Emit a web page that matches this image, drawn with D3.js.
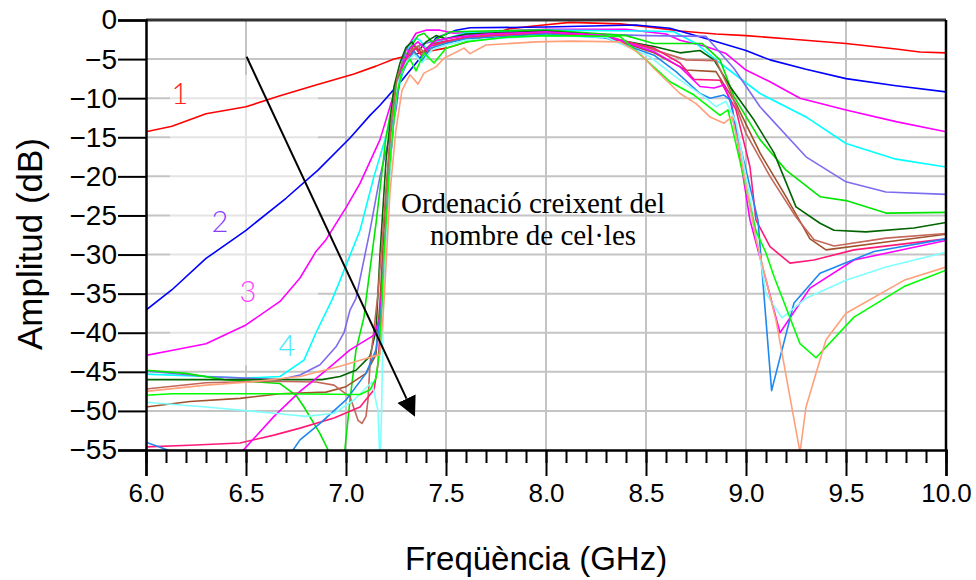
<!DOCTYPE html>
<html>
<head>
<meta charset="utf-8">
<script src="https://cdn.jsdelivr.net/npm/d3@7"></script>
<style>
  body { margin: 0; background: #fff; }
  svg { display: block; }
</style>
</head>
<body>
<svg id="chart" width="976" height="580"></svg>
<script>
// ticks
const xTicks = [6.0, 6.5, 7.0, 7.5, 8.0, 8.5, 9.0, 9.5, 10.0];
const xMinorTicks = d3.range(60, 101).map(d => d / 10);
const yTicks = [0, -5, -10, -15, -20, -25, -30, -35, -40, -45, -50, -55];

// series, [GHz, dB], ordered by number of cells
const curve1 = [[6.0,-14.3],[6.13,-13.6],[6.3,-12.0],[6.5,-11.1],[6.67,-9.7],[6.85,-8.3],[7.04,-6.9],[7.15,-5.9],[7.24,-5.0],[7.39,-4.1],[7.5,-3.6],[7.67,-2.3],[7.82,-1.1],[8.0,-0.6],[8.12,-0.3],[8.37,-0.5],[8.5,-0.85],[8.67,-1.4],[8.85,-1.8],[9.0,-2.0],[9.25,-2.5],[9.5,-3.0],[9.75,-3.7],[9.87,-4.1],[10.0,-4.2]];
const curve2 = [[6.0,-37.1],[6.13,-34.5],[6.3,-30.5],[6.5,-26.9],[6.7,-22.8],[6.86,-19.2],[7.02,-15.1],[7.12,-12.2],[7.17,-10.9],[7.29,-7.4],[7.37,-4.9],[7.45,-2.3],[7.55,-1.3],[7.62,-1.0],[8.0,-0.9],[8.45,-0.64],[8.62,-1.06],[8.79,-2.3],[9.0,-3.9],[9.12,-5.1],[9.3,-6.3],[9.5,-7.5],[9.75,-8.4],[10.0,-9.2]];
const curve3 = [[6.0,-42.9],[6.14,-42.2],[6.3,-41.4],[6.5,-39.0],[6.67,-36.0],[6.77,-33.0],[6.85,-29.6],[6.9,-28.1],[7.0,-24.0],[7.07,-20.9],[7.17,-15.3],[7.24,-9.4],[7.3,-3.8],[7.35,-1.7],[7.4,-1.3],[7.47,-1.3],[7.54,-1.7],[7.7,-1.5],[8.0,-1.2],[8.4,-1.2],[8.6,-1.8],[8.67,-2.6],[8.8,-3.4],[8.9,-4.3],[9.0,-6.4],[9.12,-7.9],[9.27,-10.0],[9.5,-11.5],[9.75,-13.0],[10.0,-14.3]];
const curve4 = [[6.0,-45.3],[6.5,-45.8],[6.67,-45.6],[6.79,-43.5],[6.85,-40.0],[6.93,-35.8],[6.97,-33.3],[7.07,-26.9],[7.14,-20.0],[7.2,-14.9],[7.27,-8.1],[7.32,-3.0],[7.35,-2.3],[7.37,-2.6],[7.4,-3.6],[7.44,-3.0],[7.5,-2.4],[7.6,-1.6],[8.0,-1.3],[8.5,-1.4],[8.64,-1.5],[8.75,-3.0],[8.87,-5.5],[9.07,-9.4],[9.3,-12.4],[9.5,-15.8],[9.75,-17.8],[10.0,-18.8]];
const curve5 = [[6.0,-44.9],[6.3,-45.6],[6.67,-46.0],[6.77,-45.4],[6.87,-44.1],[6.95,-41.8],[6.99,-40.0],[7.02,-37.1],[7.05,-35.6],[7.12,-26.9],[7.17,-20.0],[7.25,-11.5],[7.28,-5.5],[7.3,-3.7],[7.33,-4.0],[7.37,-3.2],[7.42,-2.8],[7.5,-2.4],[7.6,-1.9],[8.0,-1.6],[8.5,-2.0],[8.8,-2.1],[8.94,-6.2],[9.07,-11.1],[9.3,-17.5],[9.5,-20.7],[9.7,-22.0],[10.0,-22.3]];
const curve6 = [[6.0,-44.8],[6.2,-45.2],[6.39,-46.0],[6.67,-46.5],[6.75,-48.0],[6.79,-49.5],[6.87,-52.9],[6.93,-56.0],[6.96,-60.0],[6.99,-56.0],[7.02,-48.6],[7.05,-42.2],[7.09,-38.0],[7.1,-35.8],[7.15,-26.0],[7.2,-15.0],[7.25,-8.0],[7.3,-4.5],[7.33,-3.2],[7.36,-2.0],[7.39,-1.7],[7.43,-2.8],[7.47,-2.2],[7.52,-1.5],[7.7,-1.4],[8.0,-1.3],[8.4,-2.0],[8.54,-3.0],[8.78,-3.0],[8.87,-5.1],[8.94,-9.8],[9.07,-15.3],[9.2,-19.2],[9.37,-22.6],[9.5,-23.1],[9.7,-24.7],[10.0,-24.6]];
const curve7 = [[6.0,-46.0],[6.88,-46.0],[6.97,-45.6],[7.05,-44.8],[7.12,-43.0],[7.15,-39.7],[7.17,-30.0],[7.2,-18.0],[7.24,-8.5],[7.27,-5.5],[7.3,-3.5],[7.33,-2.8],[7.36,-4.0],[7.4,-2.8],[7.45,-2.0],[7.5,-2.4],[7.6,-1.8],[7.7,-1.7],[8.0,-1.4],[8.2,-1.8],[8.37,-2.6],[8.54,-3.4],[8.67,-4.2],[8.77,-3.9],[8.84,-5.1],[8.92,-8.5],[9.04,-12.8],[9.14,-17.0],[9.25,-23.9],[9.37,-26.0],[9.44,-26.9],[9.6,-27.1],[9.84,-26.6],[10.0,-25.9]];
const curve8 = [[6.0,-49.5],[6.22,-48.8],[6.47,-48.4],[6.67,-47.8],[6.9,-47.6],[7.0,-46.9],[7.1,-45.2],[7.15,-42.8],[7.17,-36.0],[7.2,-22.0],[7.23,-12.0],[7.26,-7.0],[7.3,-5.0],[7.34,-3.2],[7.38,-4.2],[7.43,-3.0],[7.5,-2.8],[7.6,-2.2],[7.8,-1.8],[8.0,-1.6],[8.3,-2.2],[8.54,-4.2],[8.7,-6.4],[8.85,-6.6],[8.95,-10.7],[9.07,-17.0],[9.2,-22.6],[9.32,-28.0],[9.4,-29.4],[9.7,-28.4],[10.0,-27.4]];
const curve9 = [[6.0,-47.2],[6.3,-46.4],[6.62,-46.2],[6.85,-46.3],[6.94,-46.7],[7.02,-48.2],[7.06,-51.2],[7.08,-51.6],[7.1,-50.7],[7.11,-48.6],[7.12,-44.0],[7.16,-35.0],[7.2,-22.0],[7.23,-12.0],[7.26,-7.0],[7.29,-5.2],[7.32,-4.0],[7.36,-3.3],[7.4,-4.4],[7.45,-3.2],[7.55,-2.6],[7.7,-2.0],[8.0,-1.6],[8.3,-2.0],[8.5,-3.5],[8.7,-5.1],[8.85,-5.2],[8.92,-9.0],[9.0,-14.5],[9.12,-20.0],[9.25,-25.2],[9.34,-28.1],[9.44,-28.9],[9.7,-27.9],[10.0,-27.3]];
const curve10 = [[6.0,-54.6],[6.22,-54.4],[6.47,-54.1],[6.64,-53.1],[6.77,-52.2],[6.94,-50.9],[7.07,-49.5],[7.14,-47.3],[7.16,-44.0],[7.18,-36.0],[7.21,-22.0],[7.24,-12.0],[7.27,-7.5],[7.3,-5.0],[7.35,-3.6],[7.38,-4.6],[7.42,-3.4],[7.48,-2.8],[7.6,-2.2],[8.0,-1.7],[8.3,-2.2],[8.54,-3.6],[8.67,-5.5],[8.74,-7.6],[8.87,-7.7],[8.95,-11.5],[9.02,-18.8],[9.05,-25.6],[9.12,-29.0],[9.22,-31.1],[9.34,-30.7],[9.54,-29.4],[10.0,-28.0]];
const curve11 = [[6.0,-62.0],[6.48,-55.2],[6.64,-50.7],[6.77,-47.5],[6.9,-44.8],[7.02,-42.2],[7.14,-40.3],[7.17,-38.0],[7.19,-30.0],[7.22,-18.0],[7.25,-10.0],[7.28,-6.0],[7.32,-3.6],[7.36,-2.8],[7.4,-3.8],[7.45,-2.6],[7.55,-2.2],[7.7,-1.8],[8.0,-1.5],[8.3,-2.0],[8.54,-4.05],[8.67,-6.0],[8.77,-8.5],[8.84,-8.7],[8.89,-8.3],[8.93,-11.0],[9.02,-25.6],[9.17,-40.0],[9.32,-34.3],[9.54,-30.7],[10.0,-28.2]];
const curve12 = [[6.0,-54.0],[6.13,-55.2],[6.4,-60.0],[6.73,-55.2],[6.77,-53.7],[6.87,-51.6],[7.0,-48.6],[7.1,-45.2],[7.15,-42.2],[7.18,-36.0],[7.21,-22.0],[7.24,-12.0],[7.27,-7.5],[7.31,-5.2],[7.34,-4.0],[7.38,-5.2],[7.42,-3.6],[7.5,-3.0],[7.6,-2.4],[8.0,-1.8],[8.3,-2.3],[8.54,-4.5],[8.65,-6.6],[8.77,-9.4],[8.82,-10.0],[8.89,-9.6],[8.92,-10.2],[8.97,-16.0],[9.06,-25.6],[9.128,-47.4],[9.24,-36.2],[9.37,-32.4],[9.64,-29.6],[10.0,-28.0]];
const curve13 = [[6.0,-48.9],[6.3,-49.5],[6.64,-50.3],[6.8,-50.7],[6.94,-50.3],[7.04,-48.6],[7.13,-46.3],[7.16,-50.0],[7.17,-57.0],[7.178,-50.0],[7.19,-32.0],[7.23,-15.0],[7.26,-8.0],[7.3,-5.5],[7.34,-4.4],[7.38,-5.5],[7.43,-3.8],[7.5,-3.2],[7.6,-2.6],[8.0,-2.0],[8.3,-2.2],[8.52,-4.7],[8.65,-7.3],[8.79,-9.8],[8.85,-11.1],[8.9,-10.4],[8.95,-13.0],[9.04,-25.6],[9.1,-35.0],[9.18,-38.1],[9.3,-35.6],[9.5,-33.3],[9.7,-31.6],[10.0,-29.7]];
const curve14 = [[6.0,-48.0],[6.13,-47.8],[6.67,-47.8],[7.07,-47.9],[7.12,-47.3],[7.15,-45.8],[7.17,-41.8],[7.19,-30.0],[7.22,-18.0],[7.25,-10.0],[7.28,-6.5],[7.32,-5.0],[7.35,-6.5],[7.39,-4.2],[7.44,-5.5],[7.5,-3.6],[7.6,-2.8],[7.8,-2.2],[8.0,-2.0],[8.37,-2.1],[8.5,-5.1],[8.62,-7.9],[8.74,-9.6],[8.87,-12.2],[8.91,-11.5],[8.96,-17.0],[9.05,-27.0],[9.1,-29.8],[9.14,-32.8],[9.27,-41.4],[9.35,-43.2],[9.54,-38.0],[9.79,-34.1],[10.0,-32.0]];
const curve15 = [[6.0,-47.5],[6.3,-46.7],[6.52,-46.3],[6.77,-45.6],[6.97,-44.3],[7.1,-43.3],[7.17,-42.8],[7.19,-36.0],[7.22,-22.0],[7.25,-14.0],[7.28,-9.0],[7.32,-7.0],[7.36,-8.2],[7.39,-6.8],[7.45,-6.0],[7.49,-4.9],[7.59,-3.6],[7.62,-4.3],[7.7,-3.2],[7.95,-2.8],[8.12,-2.7],[8.37,-2.8],[8.47,-4.3],[8.54,-6.2],[8.67,-9.4],[8.75,-10.7],[8.82,-12.4],[8.89,-13.2],[8.93,-12.4],[8.97,-17.0],[9.05,-28.0],[9.15,-38.4],[9.27,-55.3],[9.3,-49.5],[9.4,-40.9],[9.5,-37.5],[9.79,-33.3],[10.0,-31.6]];

const curves = [curve1, curve2, curve3, curve4, curve5, curve6, curve7, curve8,
  curve9, curve10, curve11, curve12, curve13, curve14, curve15];
const curveColors = ["#ff0000", "#0000ff", "#ff00ff", "#00ffff", "#7b6cf0", "#00e600",
  "#006400", "#a0522d", "#c4665a", "#ff1a7a", "#ff00ff", "#1e88f0", "#80ffff", "#00ff00", "#ffa07a"];

// numbered labels next to the first curves [GHz, dB, text]
const curveLabels = [[6.17, -9.3, "1"], [6.37, -25.7, "2"], [6.51, -34.6, "3"], [6.705, -41.5, "4"]];
const labelColors = ["#ff2020", "#8a3cff", "#ff40ff", "#40e8ff"];
// arrow from few to many cells [GHz, dB]
const arrowStart = [6.503, -4.7];
const arrowTip = [7.345, -50.75];
const noteLines = ["Ordenació creixent del", "nombre de cel·les"];

const width = 976, height = 580;
const margin = { top: 20, right: 30, bottom: 130, left: 146 };
const plotW = width - margin.left - margin.right;
const plotH = height - margin.top - margin.bottom;

const x = d3.scaleLinear().domain([6, 10]).range([margin.left, margin.left + plotW]);
const y = d3.scaleLinear().domain([-55, 0]).range([margin.top + plotH, margin.top]);

const svg = d3.select("#chart");
const defs = svg.append("defs");

defs.append("clipPath").attr("id", "plotClip")
  .append("rect")
  .attr("x", margin.left).attr("y", margin.top)
  .attr("width", plotW).attr("height", plotH);

defs.append("marker")
  .attr("id", "arrowHead")
  .attr("viewBox", "0 0 10 10")
  .attr("refX", 0).attr("refY", 5)
  .attr("markerUnits", "userSpaceOnUse")
  .attr("markerWidth", 20).attr("markerHeight", 22)
  .attr("orient", "auto")
  .append("path")
  .attr("d", "M0,0 L10,5 L0,10 Z")
  .attr("fill", "#000");

// grid
const grid = svg.append("g").attr("stroke", "#c4c4c4").attr("stroke-width", 2);
grid.selectAll("line.v")
  .data(xTicks.slice(1, -1))
  .join("line")
  .attr("class", "v")
  .attr("x1", d => x(d)).attr("x2", d => x(d))
  .attr("y1", margin.top).attr("y2", margin.top + plotH);
grid.selectAll("line.h")
  .data(yTicks.slice(1, -1))
  .join("line")
  .attr("class", "h")
  .attr("x1", margin.left).attr("x2", margin.left + plotW)
  .attr("y1", d => y(d)).attr("y2", d => y(d));

// pasted label patch fades the grid a bit
svg.append("rect")
  .attr("x", x(6.12)).attr("y", y(-7.0))
  .attr("width", x(6.86) - x(6.12)).attr("height", y(-44.2) - y(-7.0))
  .attr("fill", "#fff").attr("opacity", 0.55);

// curves
const line = d3.line()
  .x(d => x(d[0]))
  .y(d => y(d[1]));

svg.append("g")
  .attr("clip-path", "url(#plotClip)")
  .selectAll("path")
  .data(curves)
  .join("path")
  .attr("d", line)
  .attr("fill", "none")
  .attr("stroke", (d, i) => curveColors[i])
  .attr("stroke-width", 1.6)
  .attr("stroke-linejoin", "round");

// frame
svg.append("line")
  .attr("x1", margin.left).attr("x2", margin.left + plotW)
  .attr("y1", margin.top).attr("y2", margin.top)
  .attr("stroke", "#333").attr("stroke-width", 3);
svg.append("line")
  .attr("x1", margin.left + plotW).attr("x2", margin.left + plotW)
  .attr("y1", margin.top).attr("y2", margin.top + plotH)
  .attr("stroke", "#000").attr("stroke-width", 2.5);

// x axis
const xAxisMinor = svg.append("g")
  .attr("transform", `translate(0, ${margin.top + plotH})`)
  .call(d3.axisBottom(x).tickValues(xMinorTicks).tickSize(13).tickFormat(""));
xAxisMinor.select(".domain").remove();
xAxisMinor.selectAll(".tick line").attr("stroke", "#000").attr("stroke-width", 2);

const xAxis = svg.append("g")
  .attr("transform", `translate(0, ${margin.top + plotH})`)
  .call(d3.axisBottom(x).tickValues(xTicks).tickSize(26).tickPadding(8).tickFormat(d3.format(".1f")));
xAxis.select(".domain").attr("stroke", "#000").attr("stroke-width", 2.5);
xAxis.selectAll(".tick line").attr("stroke", "#000").attr("stroke-width", 2);
xAxis.selectAll(".tick text")
  .attr("fill", "#000")
  .style("font-family", "'Liberation Sans', Arial, sans-serif")
  .style("font-size", "26px");

// y axis
const yAxis = svg.append("g")
  .attr("transform", `translate(${margin.left}, 0)`)
  .call(d3.axisLeft(y).tickValues(yTicks).tickSize(28).tickPadding(1).tickFormat(d3.format("d")));
yAxis.select(".domain").attr("stroke", "#000").attr("stroke-width", 2.5);
yAxis.selectAll(".tick line").attr("stroke", "#000").attr("stroke-width", 2);
yAxis.selectAll(".tick text")
  .attr("fill", "#000")
  .style("font-family", "'Liberation Sans', Arial, sans-serif")
  .style("font-size", "28px");

// axis titles
svg.append("text")
  .attr("x", 536).attr("y", 570)
  .attr("text-anchor", "middle")
  .style("font-family", "'Liberation Sans', Arial, sans-serif")
  .style("font-size", "33px")
  .text("Freqüència (GHz)");

svg.append("text")
  .attr("transform", "translate(42, 244) rotate(-90)")
  .attr("text-anchor", "middle")
  .style("font-family", "'Liberation Sans', Arial, sans-serif")
  .style("font-size", "35px")
  .text("Amplitud (dB)");

// annotations
svg.append("g")
  .selectAll("text")
  .data(curveLabels)
  .join("text")
  .attr("x", d => x(d[0])).attr("y", d => y(d[1]))
  .attr("text-anchor", "middle")
  .attr("dominant-baseline", "central")
  .attr("fill", (d, i) => labelColors[i])
  .style("font-family", "Lato, 'Liberation Sans', sans-serif")
  .style("font-weight", 300)
  .style("font-size", "29px")
  .text(d => d[2]);

const dx = x(arrowTip[0]) - x(arrowStart[0]);
const dy = y(arrowTip[1]) - y(arrowStart[1]);
const len = Math.hypot(dx, dy);
svg.append("line")
  .attr("x1", x(arrowStart[0])).attr("y1", y(arrowStart[1]))
  .attr("x2", x(arrowTip[0]) - dx / len * 20).attr("y2", y(arrowTip[1]) - dy / len * 20)
  .attr("stroke", "#000").attr("stroke-width", 2)
  .attr("marker-end", "url(#arrowHead)");

svg.append("g")
  .selectAll("text")
  .data(noteLines)
  .join("text")
  .attr("x", 533)
  .attr("y", (d, i) => 213 + i * 32)
  .attr("text-anchor", "middle")
  .style("font-family", "'Liberation Serif', 'Times New Roman', serif")
  .style("font-size", "29px")
  .text(d => d);
</script>
</body>
</html>
